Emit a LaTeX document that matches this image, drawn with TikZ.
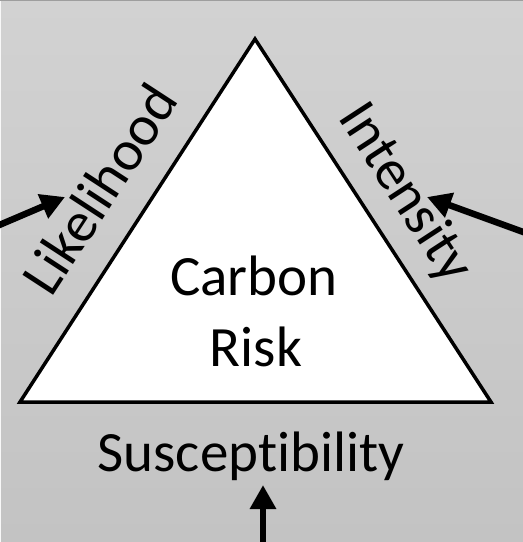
\documentclass[tikz,border=0pt]{standalone}
\usepackage{fontspec}
\setmainfont{Carlito}[RawFeature={-liga}]
\usetikzlibrary{arrows.meta}
\definecolor{bgtop}{HTML}{D2D2D2}
\definecolor{bgbot}{HTML}{C3C3C3}
\tikzset{
  lbl/.style={inner sep=0pt, font=\fontsize{57}{70}\selectfont, text=black},
  bigarrow/.style={line width=6.5pt, -{Triangle[length=24pt,width=25pt]}},
  tri/.style={draw=black, fill=white, line width=3.5pt, line join=miter}
}
\begin{document}
\begin{tikzpicture}[x=1pt,y=-1pt]
  % background
  \shade[top color=bgtop, bottom color=bgbot] (0,0) rectangle (523,542);
  \useasboundingbox (0,0) rectangle (523,542);
  \draw[line width=1.2pt, color=black!38] (0,0.6) -- (523,0.6);
  \draw[line width=1pt, color=white!85!bgtop] (0.5,1) -- (0.5,542);
  % triangle
  \coordinate (apex) at (255,39);
  \coordinate (bl) at (20,402);
  \coordinate (br) at (491,402);
  \draw[tri] (apex) -- (br) -- (bl) -- cycle;
  % centre text
  \node[lbl, anchor=base] (carbon) at (254,295.5) {Carbon};
  \node[lbl, anchor=base] (risk) at (256,366) {Risk};
  % side labels
  \node[lbl, anchor=base, rotate=56.9] (likelihood) at (116,199.5) {Likelihood};
  \node[lbl, anchor=base, rotate=-56.9] (intensity) at (392,202) {Intensity};
  \node[lbl, anchor=base] (suscept) at (251,471) {Susceptibility};
  % arrows
  \coordinate (la0) at (-3,226);
  \coordinate (la1) at (65,197);
  \coordinate (ra0) at (526,233);
  \coordinate (ra1) at (427,197);
  \coordinate (ba0) at (263,545);
  \coordinate (ba1) at (263,485);
  \draw[bigarrow] (la0) -- (la1);
  \draw[bigarrow] (ra0) -- (ra1);
  \draw[bigarrow] (ba0) -- (ba1);
\end{tikzpicture}
\end{document}
